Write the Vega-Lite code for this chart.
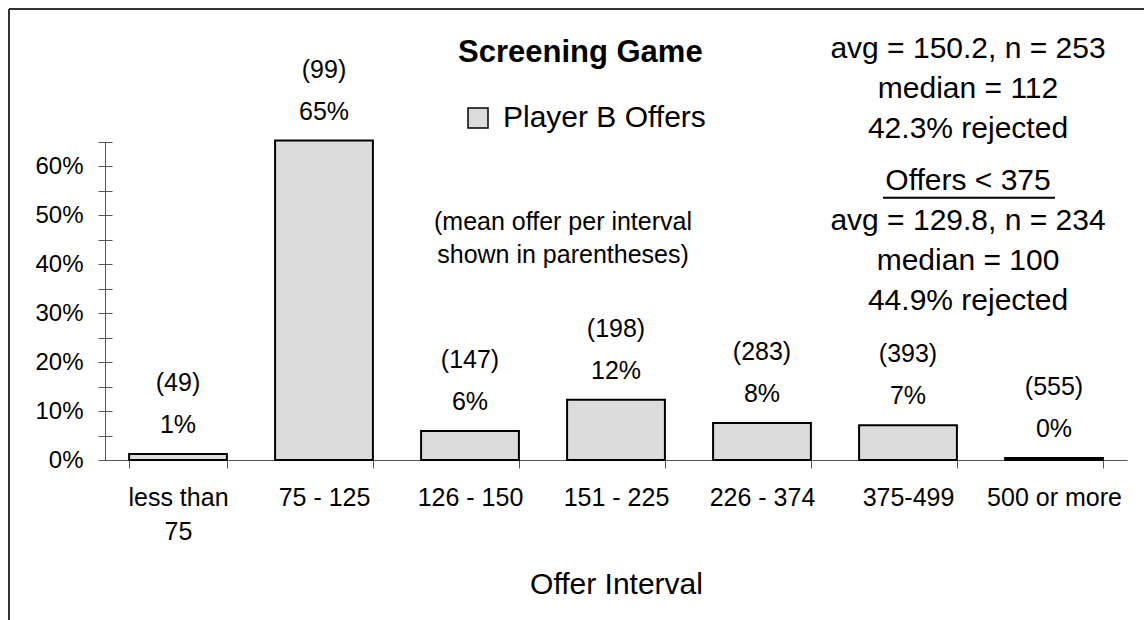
{
  "$schema": "https://vega.github.io/schema/vega-lite/v6.json",
  "width": 1135,
  "height": 611,
  "autosize": {"type": "none"},
  "padding": {"left": 9, "top": 9, "right": 0, "bottom": 0},
  "background": "white",
  "config": {
    "font": "Liberation Sans",
    "view": {"stroke": "#333333", "strokeWidth": 2, "strokeDash": [1135, 1746, 611, 0]},
    "axis": {"grid": false, "domainColor": "#555555", "tickColor": "#555555", "labelColor": "black", "titleColor": "black"},
    "text": {"color": "black", "font": "Liberation Sans", "fontWeight": "normal"}
  },
  "title": {
    "text": "Screening Game",
    "fontSize": 31,
    "fontWeight": "bold",
    "color": "black",
    "anchor": "start",
    "frame": "group",
    "orient": "top",
    "offset": 0,
    "baseline": "alphabetic",
    "dx": 449,
    "dy": 84
  },
  "datasets": {
    "offers": [
      {"interval": "less than 75", "pct": 0.012, "mean": 49, "series": "Player B Offers"},
      {"interval": "75 - 125", "pct": 0.652, "mean": 99, "series": "Player B Offers"},
      {"interval": "126 - 150", "pct": 0.059, "mean": 147, "series": "Player B Offers"},
      {"interval": "151 - 225", "pct": 0.123, "mean": 198, "series": "Player B Offers"},
      {"interval": "226 - 374", "pct": 0.0755, "mean": 283, "series": "Player B Offers"},
      {"interval": "375-499", "pct": 0.071, "mean": 393, "series": "Player B Offers"},
      {"interval": "500 or more", "pct": 0.004, "mean": 555, "series": "Player B Offers"}
    ],
    "note": [
      {"label": ["(mean offer per interval", "shown in parentheses)"]}
    ],
    "allOffers": [
      {"label": ["avg = 150.2, n = 253", "median = 112", "42.3% rejected"]}
    ],
    "lowOffers": [
      {"label": ["Offers < 375", "avg = 129.8, n = 234", "median = 100", "44.9% rejected"]}
    ],
    "underline": [
      {"from": "375-499", "to": "500 or more"}
    ]
  },
  "resolve": {"axis": {"y": "independent"}},
  "layer": [
    {
      "data": {"name": "offers"},
      "mark": {"type": "bar", "stroke": "black", "strokeWidth": 2},
      "encoding": {
        "x": {
          "field": "interval",
          "type": "nominal",
          "sort": null,
          "scale": {
            "domain": ["less than 75", "75 - 125", "126 - 150", "151 - 225", "226 - 374", "375-499", "500 or more"],
            "range": [96, 1118],
            "paddingInner": 0.33,
            "paddingOuter": 0.165
          },
          "axis": {
            "orient": "bottom",
            "offset": -160,
            "title": "Offer Interval",
            "titleFontSize": 30,
            "titleFontWeight": "normal",
            "titleY": 133,
            "titleBaseline": "alphabetic",
            "labelAngle": 0,
            "labelFontSize": 25,
            "labelPadding": 17,
            "labelLineHeight": 34,
            "labelOverlap": false,
            "labelLimit": 0,
            "labelExpr": "datum.label == 'less than 75' ? ['less than', '75'] : datum.label",
            "tickBand": "extent",
            "tickSize": 8
          }
        },
        "y": {
          "field": "pct",
          "type": "quantitative",
          "scale": {"domain": [0, 0.65], "range": [451, 132.5], "nice": false},
          "axis": {
            "orient": "left",
            "offset": -96,
            "title": null,
            "values": [0, 0.05, 0.1, 0.15, 0.2, 0.25, 0.3, 0.35, 0.4, 0.45, 0.5, 0.55, 0.6, 0.65],
            "format": ".0%",
            "labelExpr": "round(datum.value * 100) % 10 == 0 ? datum.label : ''",
            "labelFontSize": 24,
            "labelPadding": 15,
            "tickSize": 7
          }
        },
        "color": {
          "field": "series",
          "type": "nominal",
          "scale": {"range": ["#dcdcdc"]},
          "legend": {
            "orient": "none",
            "legendX": 454,
            "legendY": 94,
            "title": null,
            "padding": 0,
            "symbolType": "square",
            "symbolSize": 400,
            "symbolStrokeColor": "black",
            "symbolStrokeWidth": 1.5,
            "symbolOpacity": 1,
            "labelFontSize": 30,
            "labelColor": "black",
            "labelLimit": 400,
            "labelOffset": 10
          }
        }
      }
    },
    {
      "data": {"name": "offers"},
      "mark": {"type": "text", "fontSize": 25, "baseline": "alphabetic", "dy": -21},
      "encoding": {
        "x": {"field": "interval", "type": "nominal", "sort": null},
        "y": {"field": "pct", "type": "quantitative", "axis": null},
        "text": {"field": "pct", "type": "quantitative", "format": ".0%"}
      }
    },
    {
      "data": {"name": "offers"},
      "mark": {"type": "text", "fontSize": 25, "baseline": "alphabetic", "dy": -63, "text": {"expr": "'(' + datum.mean + ')'"}},
      "encoding": {
        "x": {"field": "interval", "type": "nominal", "sort": null},
        "y": {
          "field": "pct",
          "type": "quantitative",
          "axis": {
            "orient": "left",
            "offset": -96,
            "title": null,
            "values": [0, 0.05, 0.1, 0.15, 0.2, 0.25, 0.3, 0.35, 0.4, 0.45, 0.5, 0.55, 0.6, 0.65],
            "labels": false,
            "domain": false,
            "tickSize": -7
          }
        }
      }
    },
    {
      "data": {"name": "note"},
      "mark": {"type": "text", "fontSize": 25, "align": "center", "baseline": "alphabetic", "lineHeight": 33, "dx": 93},
      "encoding": {
        "x": {"datum": "126 - 150"},
        "y": {"datum": 0.4694, "type": "quantitative", "axis": null},
        "text": {"field": "label"}
      }
    },
    {
      "data": {"name": "allOffers"},
      "mark": {"type": "text", "fontSize": 30, "align": "center", "baseline": "alphabetic", "lineHeight": 40, "dx": 60},
      "encoding": {
        "x": {"datum": "375-499"},
        "y": {"datum": 0.8208, "type": "quantitative", "axis": null},
        "text": {"field": "label"}
      }
    },
    {
      "data": {"name": "lowOffers"},
      "mark": {"type": "text", "fontSize": 30, "align": "center", "baseline": "alphabetic", "lineHeight": 40, "dx": 60},
      "encoding": {
        "x": {"datum": "375-499"},
        "y": {"datum": 0.552, "type": "quantitative", "axis": null},
        "text": {"field": "label"}
      }
    },
    {
      "data": {"name": "underline"},
      "mark": {"type": "rule", "color": "black", "strokeWidth": 2, "xOffset": -25, "x2Offset": 1},
      "encoding": {
        "x": {"field": "from", "type": "nominal"},
        "x2": {"field": "to"},
        "y": {"datum": 0.535, "type": "quantitative", "axis": null}
      }
    }
  ]
}
